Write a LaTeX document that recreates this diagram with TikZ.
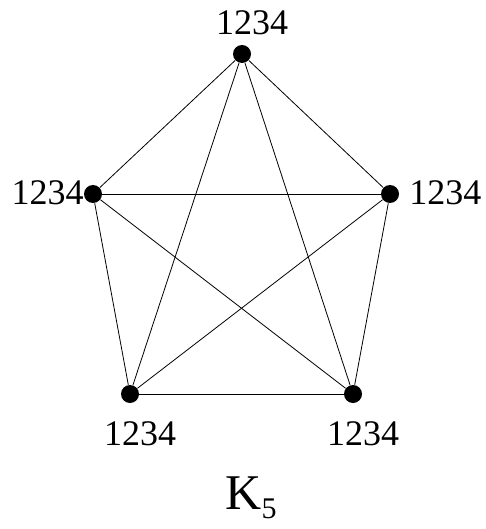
\documentclass[tikz,border=0pt]{standalone}
\usepackage{fontspec}
\setmainfont{Liberation Serif}
\begin{document}
\begin{tikzpicture}[x=1pt,y=-1pt,line width=0.8pt,
  vertex/.style={circle,fill,inner sep=0pt,minimum size=18pt},
  lbl/.style={inner sep=0pt,font=\fontsize{36}{40}\selectfont}]
\useasboundingbox (0,0) rectangle (486,529);
\node[vertex] (t) at (242,54) {};
\node[vertex] (l) at (93,194) {};
\node[vertex] (r) at (390,194) {};
\node[vertex] (bl) at (130,394) {};
\node[vertex] (br) at (353,394) {};
\draw (t) -- (l);
\draw (t) -- (r);
\draw (t) -- (bl);
\draw (t) -- (br);
\draw (l) -- (r);
\draw (l) -- (bl);
\draw (l) -- (br);
\draw (r) -- (bl);
\draw (r) -- (br);
\draw (bl) -- (br);
\node[lbl] (tl) at (252,23) {1234};
\node[lbl,anchor=east] (ll) at (84,193) {1234};
\node[lbl,anchor=west] (rl) at (409,193) {1234};
\node[lbl] (bll) at (140,434) {1234};
\node[lbl] (brl) at (363,434) {1234};
\node[inner sep=0pt,anchor=base west,font=\fontsize{50}{54}\selectfont] (name) at (225,509)
  {K\raisebox{-9pt}{\fontsize{30}{32}\selectfont 5}};
\end{tikzpicture}
\end{document}
